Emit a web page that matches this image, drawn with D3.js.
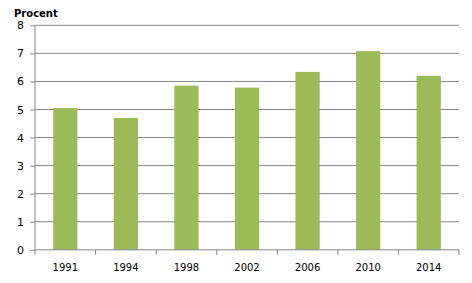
<!DOCTYPE html>
<html>
<head>
<meta charset="utf-8">
<script src="https://cdn.jsdelivr.net/npm/d3@7"></script>
<style>
  body { margin: 0; background: #fff; }
  text { font-family: "DejaVu Sans", Verdana, sans-serif; font-size: 10px; fill: #000; }
</style>
</head>
<body>
<div class="chart"></div>
<script>
var years = ["1991", "1994", "1998", "2002", "2006", "2010", "2014"];
var values = [5.05, 4.70, 5.85, 5.78, 6.34, 7.08, 6.20];
var yTicks = [0, 1, 2, 3, 4, 5, 6, 7, 8];

var svgWidth = 472;
var svgHeight = 283;

var margin = { top: 25.3, right: 13, bottom: 33.2, left: 35 };
var width = svgWidth - margin.left - margin.right;
var height = svgHeight - margin.top - margin.bottom;

var svg = d3.select(".chart").append("svg")
    .attr("width", svgWidth).attr("height", svgHeight);

var chartGroup = svg.append("g")
    .attr("transform", `translate(${margin.left},${margin.top})`);

var x = d3.scaleBand().domain(years).range([0, width])
    .paddingInner(0.6).paddingOuter(0.3);
var y = d3.scaleLinear().domain([0, 8]).range([height, 0]);

// gridlines
chartGroup.selectAll("line.grid")
    .data(yTicks.slice(1)).enter().append("line")
    .attr("class", "grid")
    .attr("x1", 0).attr("x2", width)
    .attr("y1", d => y(d)).attr("y2", d => y(d))
    .attr("stroke", "#868686").attr("stroke-width", 1);

// bars
chartGroup.selectAll("rect")
    .data(values).enter().append("rect")
    .attr("x", (d, i) => x(years[i]))
    .attr("y", d => y(d))
    .attr("width", x.bandwidth())
    .attr("height", d => height - y(d))
    .attr("fill", "#9BBB59");

// y axis
var leftAxis = d3.axisLeft(y).tickValues(yTicks).tickSize(5).tickPadding(6);
var yAxis = chartGroup.append("g").call(leftAxis);
yAxis.select(".domain").attr("stroke", "#868686").attr("d", `M0,${height}V0`);
yAxis.selectAll(".tick line").attr("stroke", "#868686");
yAxis.selectAll("text").attr("font-size", "11px").style("font-size", "11px");

// x axis with ticks between categories
var step = x.step();
var xAxisG = chartGroup.append("g").attr("transform", `translate(0,${height})`);
xAxisG.append("line").attr("x1", 0).attr("x2", width)
    .attr("stroke", "#868686");
xAxisG.selectAll("line.sep")
    .data(d3.range(years.length + 1)).enter().append("line")
    .attr("class", "sep")
    .attr("x1", i => i * width / years.length).attr("x2", i => i * width / years.length)
    .attr("y1", 0).attr("y2", 5)
    .attr("stroke", "#868686");
xAxisG.selectAll("text")
    .data(years).enter().append("text")
    .attr("x", d => x(d) + x.bandwidth() / 2)
    .attr("y", 21.5)
    .attr("text-anchor", "middle")
    .text(d => d);

// y label
svg.append("text")
    .attr("x", 14).attr("y", 17)
    .attr("font-weight", "bold")
    .text("Procent");
</script>
</body>
</html>
